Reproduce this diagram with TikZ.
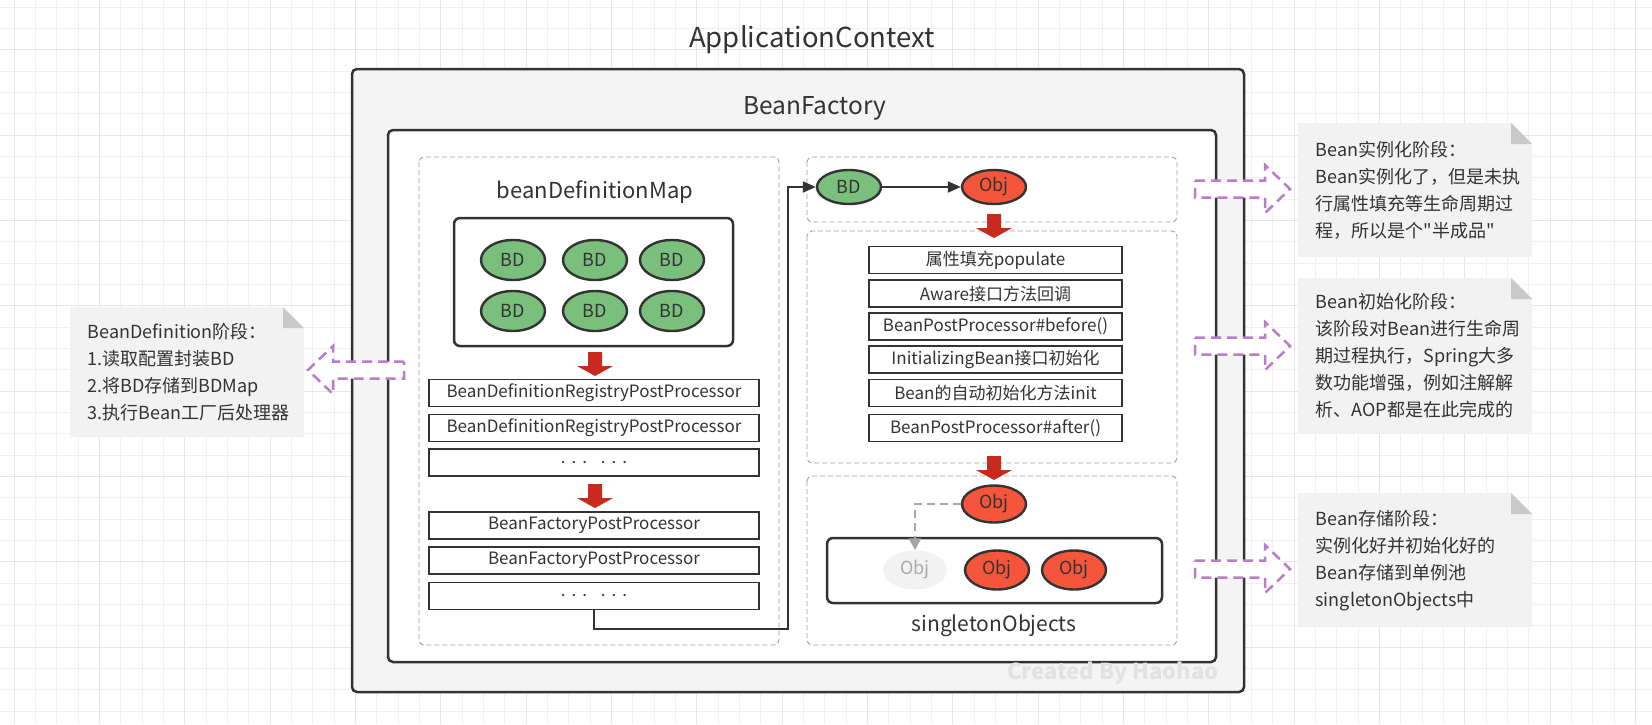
\documentclass[tikz,border=0pt]{standalone}
\usepackage{fontspec}
\setmainfont{Noto Sans CJK SC}[Ligatures=TeXOff]
\usetikzlibrary{shapes.geometric,arrows.meta}

\definecolor{ink}{HTML}{333333}
\definecolor{gridlight}{HTML}{F0F0F0}
\definecolor{griddark}{HTML}{E6E6E6}
\definecolor{boxgray}{HTML}{F4F4F4}
\definecolor{panelgray}{HTML}{9E9E9E}
\definecolor{bdgreen}{HTML}{7BBF7D}
\definecolor{objred}{HTML}{F5553A}
\definecolor{ghostfill}{HTML}{F2F2F2}
\definecolor{ghosttext}{HTML}{AAAAAA}
\definecolor{ghostline}{HTML}{A6A6A6}
\definecolor{arrowred}{HTML}{C9291F}
\definecolor{stagepurple}{HTML}{B97DCB}
\definecolor{notegray}{HTML}{F2F2F2}
\definecolor{foldgray}{HTML}{C9C9C9}
\definecolor{markgray}{HTML}{E2E2E2}

% note card with a folded top-right corner
\newcommand{\notecard}[4]{%
  \fill[notefill] (#1,#2) -- (#3-21,#2) -- (#3,#2+21) -- (#3,#4) -- (#1,#4) -- cycle;
  \fill[foldfill] (#3-21,#2) -- (#3-21,#2+21) -- (#3,#2+21) -- cycle;}
% spaced dots for the "more" rows
\newcommand{\moredots}{.\hspace{6pt}.\hspace{6pt}.\hspace{14pt}.\hspace{6pt}.\hspace{6pt}.}

\begin{document}
\begin{tikzpicture}[x=1pt,y=-1pt,
    every node/.style={text=ink},
    gridminor/.style={draw=gridlight, line width=0.8pt},
    gridmajor/.style={draw=griddark, line width=1pt},
    ctxbox/.style={draw=ink, line width=2.5pt, rounded corners=5pt, fill=boxgray},
    factorybox/.style={draw=ink, line width=2.5pt, rounded corners=5pt, fill=white},
    panel/.style={draw=panelgray, dash pattern=on 5pt off 3pt, line width=0.9pt, rounded corners=5pt},
    poolbox/.style={draw=ink, line width=2.5pt, rounded corners=6pt, fill=white},
    heading/.style={anchor=base, font=\fontsize{#1}{#1}\selectfont},
    bd/.style={ellipse, draw=ink, line width=2.4pt, fill=bdgreen, minimum width=64pt,
      minimum height=40pt, inner sep=0pt, font=\fontsize{18}{18}\selectfont},
    obj/.style={bd, fill=objred, minimum height=37pt},
    ghost/.style={ellipse, fill=ghostfill, minimum width=64pt, minimum height=39pt,
      inner sep=0pt, text=ghosttext, font=\fontsize{18}{18}\selectfont},
    proc/.style={draw=ink, line width=1.1pt, fill=white, minimum width=330pt,
      minimum height=27pt, inner sep=0pt, font=\fontsize{17}{17}\selectfont},
    lifestep/.style={proc, minimum width=253pt},
    flow/.style={draw=ink, line width=2pt, -{Triangle[length=13pt,width=11pt]}},
    ghostflow/.style={draw=ghostline, line width=2.5pt, dash pattern=on 8pt off 5pt,
      -{Triangle[length=12pt,width=12pt]}},
    downred/.style={fill=arrowred},
    stagearrow/.style={draw=stagepurple, line width=2.5pt, dash pattern=on 10pt off 6pt, fill=white},
    notefill/.style={fill=notegray},
    foldfill/.style={fill=foldgray},
    notetext/.style={anchor=west, align=left, font=\fontsize{18}{27}\selectfont},
    watermark/.style={text=markgray, font=\fontsize{22}{22}\selectfont\bfseries}]

  \useasboundingbox (0,0) rectangle (1652,724);
  \fill[white] (0,0) rectangle (1652,724);

  % canvas grid
  \foreach \k in {0,...,76} \draw[gridminor] ({14+21.333*\k},0) -- ({14+21.333*\k},724);
  \foreach \k in {0,...,33} \draw[gridminor] (0,{7.1+21.333*\k}) -- (1652,{7.1+21.333*\k});
  \foreach \k in {0,...,19} \draw[gridmajor] ({14+85.333*\k},0) -- ({14+85.333*\k},724);
  \foreach \k in {0,...,8} \draw[gridmajor] (0,{49.8+85.333*\k}) -- (1652,{49.8+85.333*\k});

  % containers
  \node[heading=27.5] (ctxtitle) at (812,47) {ApplicationContext};
  \draw[ctxbox] (352,69) rectangle (1244,692);
  \node[heading=24.5] (factorytitle) at (815,114) {BeanFactory};
  \draw[factorybox] (388,130) rectangle (1216,662);
  \node[watermark] (mark) at (1113,673) {Created By Haohao};

  % bean definition side
  \draw[panel] (419,157) rectangle (779,645);
  \node[heading=22] (maptitle) at (595,198) {beanDefinitionMap};
  \draw[poolbox] (454,218) rectangle (733,346);
  \foreach \x [count=\i] in {513,595,672} {
    \node[bd] (bdA\i) at (\x,260) {BD};
    \node[bd] (bdB\i) at (\x,311) {BD};
  }
  \node[proc] (regpp1)   at (594,393)   {BeanDefinitionRegistryPostProcessor};
  \node[proc] (regpp2)   at (594,428)   {BeanDefinitionRegistryPostProcessor};
  \node[proc] (regdots)  at (594,462.5) {\moredots};
  \node[proc] (factpp1)  at (594,525.5) {BeanFactoryPostProcessor};
  \node[proc] (factpp2)  at (594,560.5) {BeanFactoryPostProcessor};
  \node[proc] (factdots) at (594,596)   {\moredots};

  % bean life side
  \draw[panel] (807,157) rectangle (1177,222);
  \draw[panel] (807,231) rectangle (1177,463);
  \draw[panel] (807,476) rectangle (1177,645);
  \node[bd, minimum height=34pt] (bdnew) at (849,187) {BD};
  \node[obj, minimum height=34pt] (objnew) at (994,187) {Obj};
  \node[lifestep] (populate)   at (995.5,260)   {属性填充populate};
  \node[lifestep] (aware)      at (995.5,293.5) {Aware接口方法回调};
  \node[lifestep] (bppbefore)  at (995.5,326.5) {BeanPostProcessor\#before()};
  \node[lifestep] (initbean)   at (995.5,359.5) {InitializingBean接口初始化};
  \node[lifestep] (initmethod) at (995.5,393)   {Bean的自动初始化方法init};
  \node[lifestep] (bppafter)   at (995.5,428)   {BeanPostProcessor\#after()};
  \node[obj] (objready) at (994,504) {Obj};
  \draw[poolbox] (827,538) rectangle (1162,603);
  \node[ghost] (objghost) at (915,570) {Obj};
  \node[obj, minimum height=39pt] (objpool1) at (997,570) {Obj};
  \node[obj, minimum height=39pt] (objpool2) at (1074,570) {Obj};
  \node[heading=21] (pooltitle) at (994,631) {singletonObjects};

  % connectors
  \coordinate (turn) at (788,629);
  \draw[flow] (factdots.south) |- (turn) |- (bdnew.west);
  \draw[flow] (bdnew) -- (objnew);
  \draw[ghostflow] (objready.west) -| (objghost.north);

  % red step arrows
  \foreach \x/\y in {595/352, 595/484, 994/214, 994/456}
    \fill[downred] (\x-7,\y) -- (\x+7,\y) -- (\x+7,\y+14) -- (\x+18,\y+14) -- (\x,\y+24)
      -- (\x-18,\y+14) -- (\x-7,\y+14) -- cycle;

  % stage arrows
  \draw[stagearrow] (404,361.5) -- (333,361.5) -- (333,346) -- (308,370) -- (333,394)
    -- (333,378.5) -- (404,378.5) -- cycle;
  \foreach \y in {189,346,569}
    \draw[stagearrow] (1195,\y-8.5) -- (1265,\y-8.5) -- (1265,\y-24) -- (1290,\y)
      -- (1265,\y+24) -- (1265,\y+8.5) -- (1195,\y+8.5) -- cycle;

  % stage notes
  \notecard{70}{307}{304}{437}
  \node[notetext] (bdnote) at (84,372)
    {BeanDefinition阶段：\\1.读取配置封装BD\\2.将BD存储到BDMap\\3.执行Bean工厂后处理器};
  \notecard{1298}{123}{1532}{257}
  \node[notetext] (instnote) at (1312,190)
    {Bean实例化阶段：\\Bean实例化了，但是未执\\行属性填充等生命周期过\\程，所以是个"半成品"};
  \notecard{1298}{278}{1532}{433}
  \node[notetext] (initnote) at (1312,356)
    {Bean初始化阶段：\\该阶段对Bean进行生命周\\期过程执行，Spring大多\\数功能增强，例如注解解\\析、AOP都是在此完成的};
  \notecard{1298}{493}{1532}{627}
  \node[notetext] (storenote) at (1312,561)
    {Bean存储阶段：\\实例化好并初始化好的\\Bean存储到单例池\\singletonObjects中};
\end{tikzpicture}
\end{document}
